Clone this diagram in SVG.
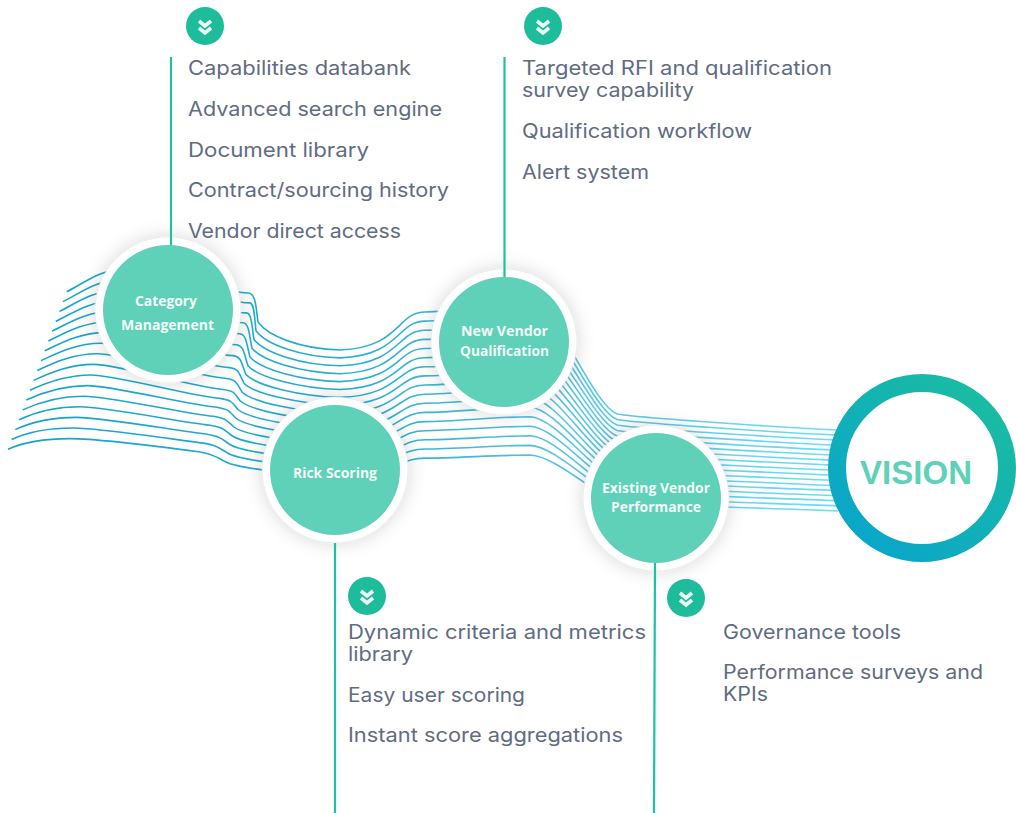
<svg xmlns="http://www.w3.org/2000/svg" width="1016" height="813" viewBox="0 0 1016 813">
<style>
.w{fill:none;stroke:url(#wg);stroke-width:1.6}
.v{stroke:#1fc19f;stroke-width:2.2;fill:none}
.halo{fill:#fff;filter:url(#sh);stroke:#d8dcdc;stroke-width:.5}
.disc{fill:#5ed1b8}
.lab{font-family:"Open Sans","Liberation Sans",sans-serif;font-weight:700;font-size:14px;fill:#f2fbf8;text-anchor:middle}
.t{font-family:Inter,"Noto Sans",sans-serif;font-size:19.5px;fill:#5f6c82}
.ic{fill:#1dbc9a}
.ch{fill:none;stroke:#eefaf7;stroke-width:3.6}
</style>
<defs>
<linearGradient id="wg" gradientUnits="userSpaceOnUse" x1="0" y1="0" x2="1016" y2="0">
<stop offset="0" stop-color="#14a3cb"/><stop offset=".35" stop-color="#27aed2"/><stop offset=".55" stop-color="#56c3e0"/><stop offset=".8" stop-color="#6cdcf6"/>
</linearGradient>
<linearGradient id="rg" gradientUnits="userSpaceOnUse" x1="985" y1="395" x2="860" y2="540">
<stop offset="0" stop-color="#1abca2"/><stop offset="1" stop-color="#0aa6ca"/>
</linearGradient>
<filter id="sh" x="-30%" y="-30%" width="160%" height="160%"><feDropShadow dx="0" dy="0" stdDeviation="9" flood-color="#000" flood-opacity=".16"/></filter>
<g id="icon"><circle class="ic" r="19"/><path class="ch" d="M-6-5 0 0 6-5M-6 2 0 7 6 2"/></g>
</defs>
<g id="connectors">
<g id="waves">
<path class="w" d="M66.7 291.7C81.7 284.7 100 269 125 269S223 293 248 293C256 293 256 308 258 322C268 336 300 349 340 350C400 348 397 312 425 312S500 302 530 302C555 303 592 404 617 414C632 417 770 427 838 430"/>
<path class="w" d="M63 301.6C78 294.6 96.6 279.6 121.6 279.6S219.7 302.7 249.7 302.9C254.5 303.1 254.4 317.3 256 330.75C266 344.25 300 356.9 340 357.9C400 355.9 397 321.1 425 321.1S500 311.6 530 311.6C555 312.6 592 409.5 617 419.5C632 422.5 770 432.1 838 435.1"/>
<path class="w" d="M59.4 311.4C74.4 304.4 93.1 290.2 118.1 290.2S216.4 312.4 246.4 312.9C251.9 313.3 251.8 326.6 254 339.5C264 352.5 300 364.8 340 365.8C400 363.8 397 330.3 425 330.3S500 321.1 530 321.1C555 322.1 592 415 617 425C632 428 770 437.1 838 440.1"/>
<path class="w" d="M55.7 321.3C70.7 314.3 89.7 300.8 114.7 300.8S213.1 322 243.1 322.8C249.4 323.4 249.2 335.9 252 348.25C262 360.75 300 372.7 340 373.7C400 371.7 397 339.4 425 339.4S500 330.7 530 330.7C555 331.7 592 420.5 617 430.5C632 433.5 770 442.2 838 445.2"/>
<path class="w" d="M52 331.1C67 324.1 86.2 311.4 111.2 311.4S209.8 332.8 239.8 333.8C246.8 334.6 246.6 345.2 250 357C260 369 300 380.6 340 381.6C400 379.6 397 348.5 425 348.5S500 340.2 530 340.2C555 341.2 592 426 617 436C632 439 770 447.2 838 450.2"/>
<path class="w" d="M48.4 341C63.4 334 82.8 322 107.8 322S206.5 343.5 236.5 344.7C244.3 345.7 244 354.5 248 365.75C258 377.25 300 388.5 340 389.5C400 387.5 397 357.7 425 357.7S500 349.8 530 349.8C555 350.8 592 431.5 617 441.5C632 444.5 770 452.3 838 455.3"/>
<path class="w" d="M44.7 350.8C59.7 343.8 79.4 332.6 104.4 332.6S203.2 354.1 233.2 355.6C241.7 356.8 241.4 363.8 246 374.5C256 385.5 300 396.4 340 397.4C400 395.4 397 366.8 425 366.8S500 359.4 530 359.4C555 360.4 592 437 617 447C632 450 770 457.4 838 460.4"/>
<path class="w" d="M41 360.7C56 353.7 75.9 343.2 100.9 343.2S199.9 365.9 229.9 367.6C239.2 369 238.8 373.1 244 383.25C254 393.75 300 404.3 340 405.3C400 403.3 397 375.9 425 375.9S500 368.9 530 368.9C555 369.9 592 442.5 617 452.5C632 455.5 770 462.4 838 465.4"/>
<path class="w" d="M37.3 370.5C52.3 363.5 72.5 353.8 97.5 353.8S196.6 376.5 226.6 378.5C236.6 380.1 236.2 382.4 242 392C252 402 300 412.2 340 413.2C400 411.2 397 385 425 385S500 378.5 530 378.5C555 379.5 592 448 617 458C632 461 770 467.5 838 470.5"/>
<path class="w" d="M33.7 380.4C48.7 373.4 69 364.4 94 364.4S193.3 387.2 223.3 389.5C234 391.3 233.6 391.7 240 400.75C250 410.25 300 420.1 340 421.1C400 419.1 397 394.2 425 394.2S500 388 530 388C555 389 592 453.5 617 463.5C632 466.5 770 472.5 838 475.5"/>
<path class="w" d="M30 390.2C45 383.2 65.6 375 90.6 375S190 395.9 220 398.4C231.5 400.4 231 401 238 409.5C248 418.5 300 428 340 429C400 427 397 403.3 425 403.3S500 397.6 530 397.6C555 398.6 592 459 617 469C632 472 770 477.6 838 480.6"/>
<path class="w" d="M26.3 400C41.3 393 62.2 385.6 87.2 385.6S186.7 404.6 216.7 407.3C229 409.5 228.4 410.3 236 418.25C246 426.75 300 435.9 340 436.9C400 434.9 397 412.4 425 412.4S500 407.2 530 407.2C555 408.2 592 464.5 617 474.5C632 477.5 770 482.7 838 485.7"/>
<path class="w" d="M22.7 409.9C37.7 402.9 58.7 396.2 83.7 396.2S183.4 413.3 213.4 416.3C226.4 418.7 225.8 419.6 234 427C244 435 300 443.8 340 444.8C400 442.8 397 421.6 425 421.6S500 416.7 530 416.7C555 417.7 592 470 617 480C632 483 770 487.7 838 490.7"/>
<path class="w" d="M19 419.8C34 412.8 55.3 406.8 80.3 406.8S180.1 422 210.1 425.2C223.9 427.8 223.2 428.9 232 435.75C242 443.25 300 451.7 340 452.7C400 450.7 397 430.7 425 430.7S500 426.3 530 426.3C555 427.3 592 475.5 617 485.5C632 488.5 770 492.8 838 495.8"/>
<path class="w" d="M15.3 429.6C30.3 422.6 51.8 417.4 76.8 417.4S176.8 430.7 206.8 434.2C221.3 437 220.6 438.2 230 444.5C240 451.5 300 459.6 340 460.6C400 458.6 397 439.8 425 439.8S500 435.8 530 435.8C555 436.8 592 481 617 491C632 494 770 497.8 838 500.8"/>
<path class="w" d="M11.6 439.5C26.6 432.5 48.4 428 73.4 428S173.5 439.4 203.5 443.1C218.8 446.1 218 447.5 228 453.25C238 459.75 300 467.5 340 468.5C400 466.5 397 449 425 449S500 445.4 530 445.4C555 446.4 592 486.5 617 496.5C632 499.5 770 502.9 838 505.9"/>
<path class="w" d="M8 449.3C23 442.3 45 438.6 70 438.6S170.2 448 200.2 452C216.2 455.2 215.4 456.8 226 462C236 468 300 475.4 340 476.4C400 474.4 397 458.1 425 458.1S500 455 530 455C555 456 592 492 617 502C632 505 770 508 838 511"/>
</g>
</g>
<g id="node-category">
<circle class="halo" cx="168" cy="310" r="73"/>
<path class="v" d="M171 57V246"/>
<circle class="disc" cx="168" cy="310" r="65"/>
<text class="lab" x="166" y="306" textLength="62" lengthAdjust="spacingAndGlyphs">Category</text>
<text class="lab" x="167.500" y="330" textLength="93" lengthAdjust="spacingAndGlyphs">Management</text>
</g>
<g id="node-qualification">
<circle class="halo" cx="504" cy="342" r="73"/>
<path class="v" d="M504.500 57V280"/>
<circle class="disc" cx="504" cy="342" r="65"/>
<text class="lab" x="504.500" y="336" textLength="87" lengthAdjust="spacingAndGlyphs">New Vendor</text>
<text class="lab" x="504.500" y="356" textLength="89" lengthAdjust="spacingAndGlyphs">Qualification</text>
</g>
<g id="node-risk">
<circle class="halo" cx="335" cy="470" r="73"/>
<path class="v" d="M335 543V813"/>
<circle class="disc" cx="335" cy="470" r="65"/>
<text class="lab" x="335" y="478" textLength="84" lengthAdjust="spacingAndGlyphs">Rick Scoring</text>
</g>
<g id="node-performance">
<circle class="halo" cx="656" cy="498" r="73"/>
<path class="v" d="M655 563L654 813"/>
<circle class="disc" cx="656" cy="498" r="65"/>
<text class="lab" x="656" y="493" textLength="108" lengthAdjust="spacingAndGlyphs">Existing Vendor</text>
<text class="lab" x="656" y="512" textLength="90" lengthAdjust="spacingAndGlyphs">Performance</text>
</g>
<g id="node-vision">
<circle cx="922" cy="468" r="85" fill="#fff" stroke="url(#rg)" stroke-width="18"/>
<text x="916" y="484" font-family="'Liberation Sans',Arial,sans-serif" font-weight="700" font-size="34" fill="#5ed1b8" text-anchor="middle" textLength="112" lengthAdjust="spacingAndGlyphs">VISION</text>
</g>
<g id="list-category">
<use href="#icon" x="205" y="26"/>
<text class="t" x="188" y="75" textLength="223" lengthAdjust="spacingAndGlyphs">Capabilities databank</text>
<text class="t" x="188" y="116" textLength="254" lengthAdjust="spacingAndGlyphs">Advanced search engine</text>
<text class="t" x="188" y="157" textLength="181" lengthAdjust="spacingAndGlyphs">Document library</text>
<text class="t" x="188" y="197" textLength="261" lengthAdjust="spacingAndGlyphs">Contract/sourcing history</text>
<text class="t" x="188" y="238" textLength="213" lengthAdjust="spacingAndGlyphs">Vendor direct access</text>
</g>
<g id="list-qualification">
<use href="#icon" x="543" y="26"/>
<text class="t"><tspan x="522" y="75" textLength="310" lengthAdjust="spacingAndGlyphs">Targeted RFI and qualification</tspan><tspan x="522" y="97" textLength="172" lengthAdjust="spacingAndGlyphs">survey capability</tspan></text>
<text class="t" x="522" y="138" textLength="230" lengthAdjust="spacingAndGlyphs">Qualification workflow</text>
<text class="t" x="522" y="179" textLength="127" lengthAdjust="spacingAndGlyphs">Alert system</text>
</g>
<g id="list-risk">
<use href="#icon" x="367" y="596"/>
<text class="t"><tspan x="348" y="639" textLength="298" lengthAdjust="spacingAndGlyphs">Dynamic criteria and metrics</tspan><tspan x="348" y="661" textLength="65" lengthAdjust="spacingAndGlyphs">library</tspan></text>
<text class="t" x="348" y="702" textLength="177" lengthAdjust="spacingAndGlyphs">Easy user scoring</text>
<text class="t" x="348" y="742" textLength="275" lengthAdjust="spacingAndGlyphs">Instant score aggregations</text>
</g>
<g id="list-performance">
<use href="#icon" x="686" y="598"/>
<text class="t" x="723" y="639" textLength="178" lengthAdjust="spacingAndGlyphs">Governance tools</text>
<text class="t"><tspan x="723" y="679" textLength="260" lengthAdjust="spacingAndGlyphs">Performance surveys and</tspan><tspan x="723" y="701" textLength="45" lengthAdjust="spacingAndGlyphs">KPIs</tspan></text>
</g>
</svg>
